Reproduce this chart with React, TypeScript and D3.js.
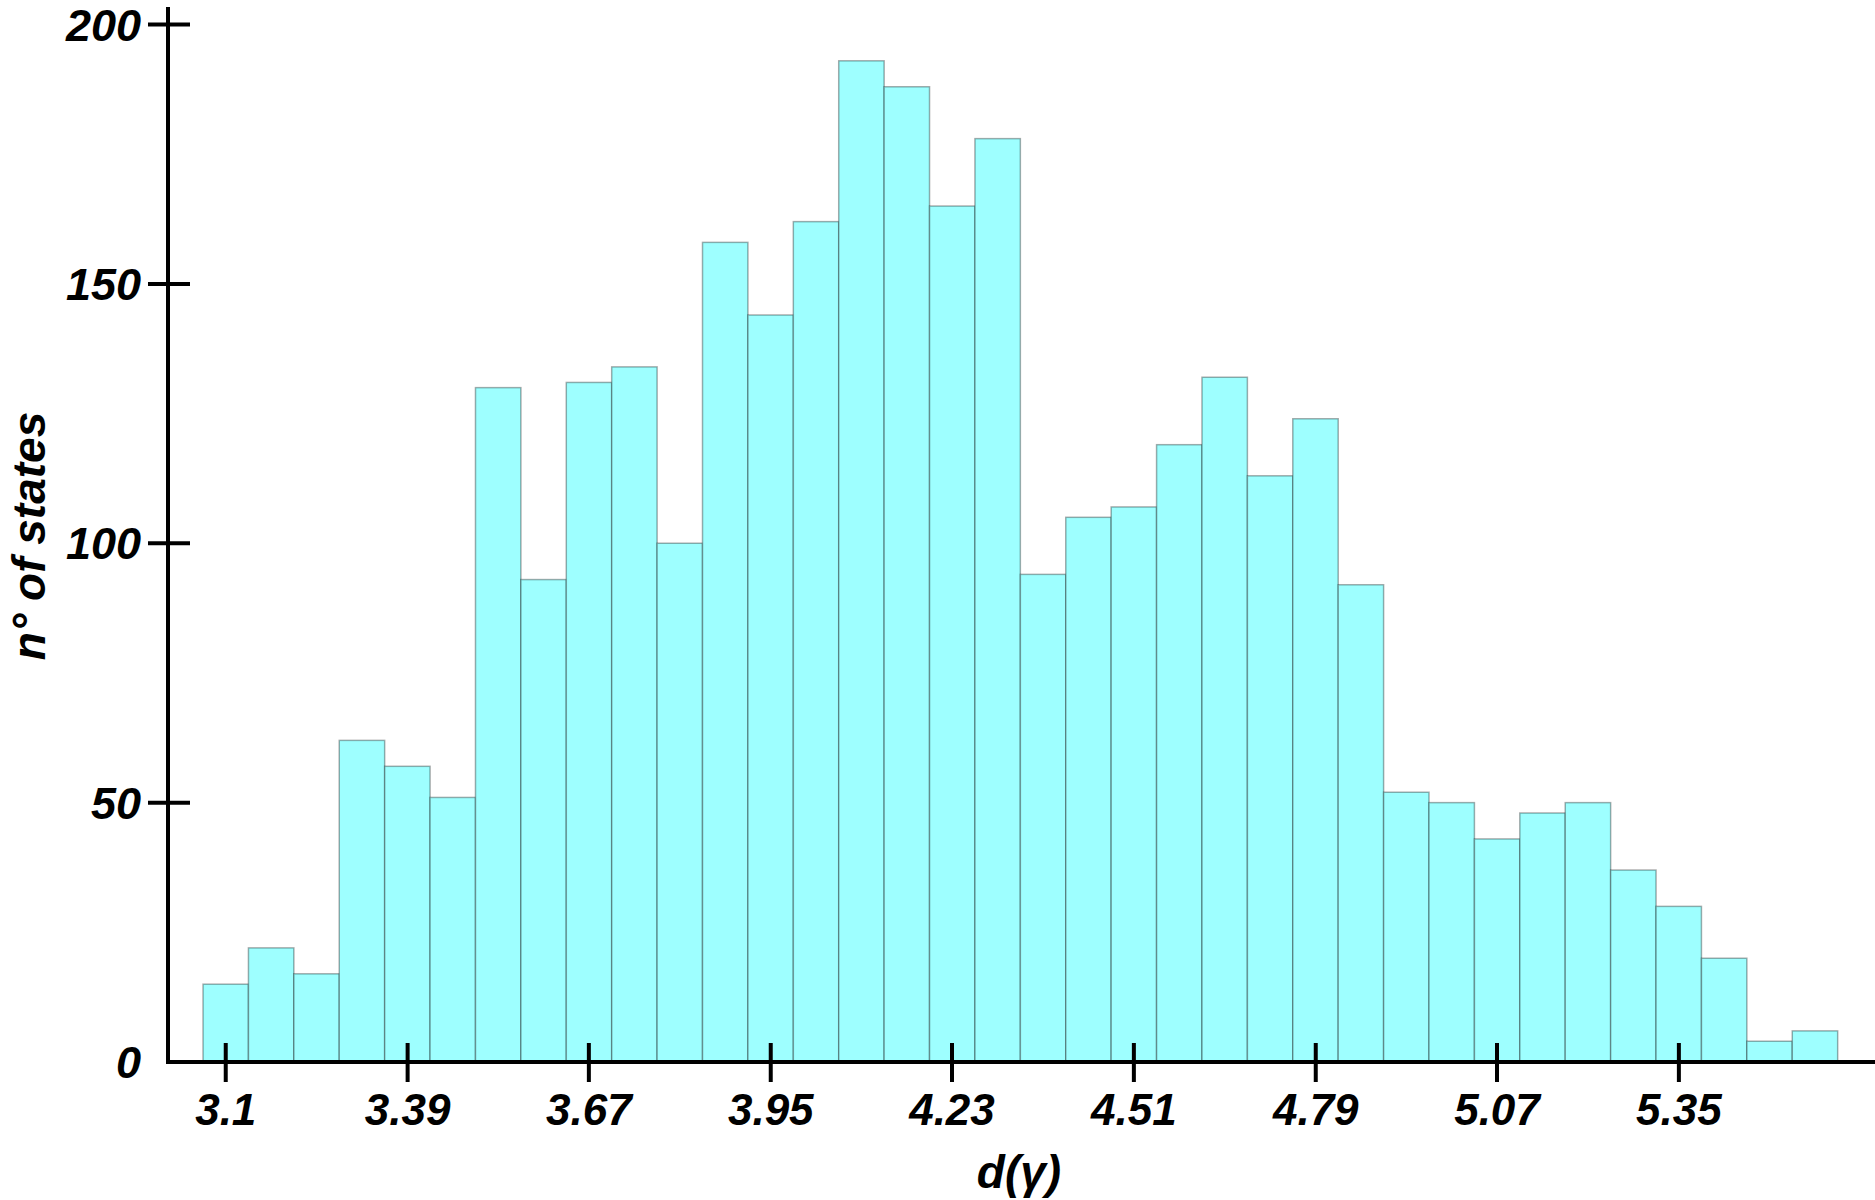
import React from "react";
import * as d3 from "d3";

// Histogram counts per bin (36 bins)
const counts: number[] = [
  15, 22, 17, 62, 57, 51, 130, 93, 131, 134, 100, 158, 144, 162, 193, 188, 165, 178,
  94, 105, 107, 119, 132, 113, 124, 92, 52, 50, 43, 48, 50, 37, 30, 20, 4, 6,
];

// First bin centre and bin width (data units)
const firstBinCenter = 3.105;
const binWidth = 0.07015;

// X axis ticks (positions and printed labels)
const xTickValues: number[] = [3.105, 3.386, 3.666, 3.947, 4.227, 4.508, 4.789, 5.069, 5.35];
const xTickLabels: string[] = ["3.1", "3.39", "3.67", "3.95", "4.23", "4.51", "4.79", "5.07", "5.35"];

// Y axis ticks
const yTickValues: number[] = [0, 50, 100, 150, 200];

const W = 1875;
const H = 1200;
const FONT = "'Liberation Sans', Arial, Helvetica, sans-serif";

export default function App() {
  const x = d3.scaleLinear().domain([3.0158, 5.653]).range([168, 1875]);
  const y = d3.scaleLinear().domain([0, 200]).range([1062, 24.5]);

  const bins = counts.map((c, i) => {
    const left = firstBinCenter - binWidth / 2 + i * binWidth;
    return { x0: left, x1: left + binWidth, c };
  });

  const axisY = y(0);
  const axisX = x.range()[0];

  return (
    <svg
      width={W}
      height={H}
      viewBox={`0 0 ${W} ${H}`}
      style={{ position: "absolute", left: 0, top: 0, background: "#fff" }}
      fontFamily={FONT}
    >
      {/* bars */}
      <g>
        {bins.map((b, i) => (
          <rect
            key={i}
            x={x(b.x0)}
            y={y(b.c)}
            width={x(b.x1) - x(b.x0)}
            height={axisY - y(b.c)}
            fill="#9effff"
            stroke="#000"
            strokeOpacity={0.33}
            strokeWidth={1.5}
          />
        ))}
      </g>

      {/* x axis */}
      <line x1={axisX - 2} x2={W} y1={axisY} y2={axisY} stroke="#000" strokeWidth={4} />
      {xTickValues.map((v, i) => (
        <g key={i} transform={`translate(${x(v)},0)`}>
          <line y1={axisY - 19} y2={axisY + 20} stroke="#000" strokeWidth={4} />
          <text
            y={1125}
            textAnchor="middle"
            fontSize={44}
            fontWeight="bold"
            fontStyle="italic"
            fill="#000"
          >
            {xTickLabels[i]}
          </text>
        </g>
      ))}

      {/* y axis */}
      <line x1={axisX} x2={axisX} y1={7} y2={axisY + 2} stroke="#000" strokeWidth={4} />
      {yTickValues.map((v, i) => (
        <g key={i} transform={`translate(0,${y(v)})`}>
          {v !== 0 && <line x1={148} x2={190} stroke="#000" strokeWidth={4} />}
          <text
            x={141}
            dy={16}
            textAnchor="end"
            fontSize={45}
            fontWeight="bold"
            fontStyle="italic"
            fill="#000"
          >
            {v}
          </text>
        </g>
      ))}

      {/* axis titles */}
      <text
        x={1019}
        y={1188}
        textAnchor="middle"
        fontSize={46}
        fontWeight="bold"
        fontStyle="italic"
        fill="#000"
      >
        d(γ)
      </text>
      <text
        transform={`translate(45,536) rotate(-90)`}
        textAnchor="middle"
        fontSize={46}
        fontWeight="bold"
        fontStyle="italic"
        fill="#000"
      >
        n° of states
      </text>
    </svg>
  );
}
